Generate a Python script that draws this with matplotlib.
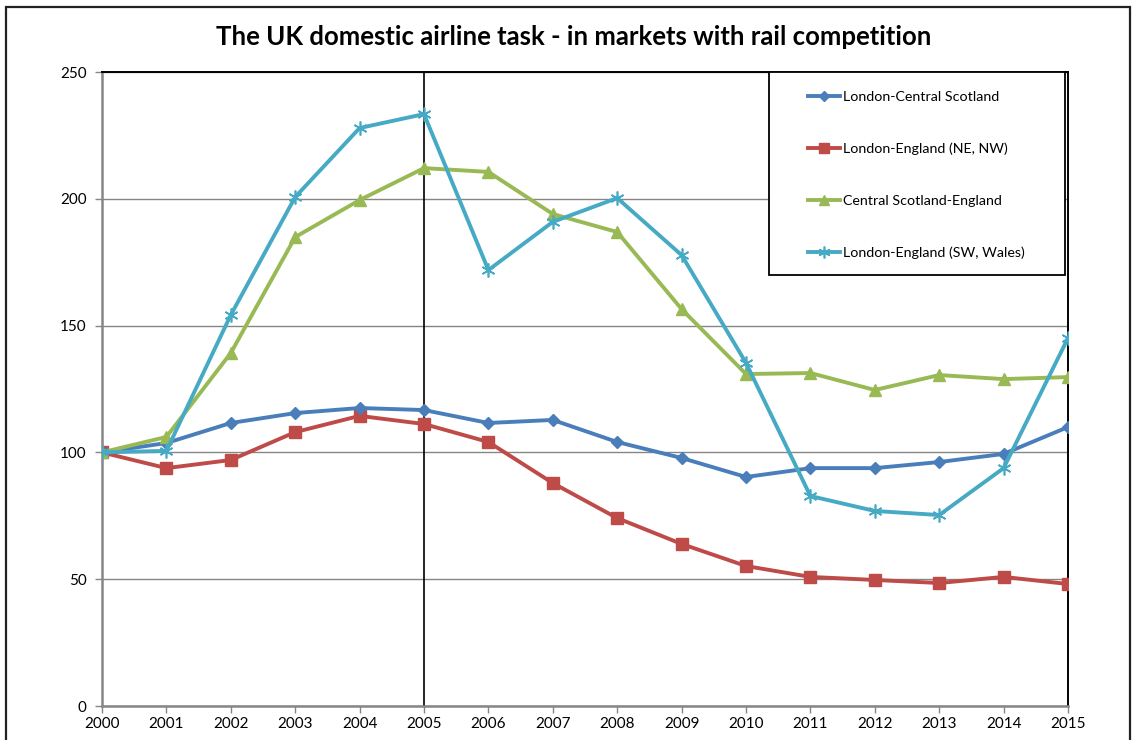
import matplotlib
matplotlib.use("Agg")
import matplotlib.pyplot as plt
from matplotlib.patches import Rectangle

plt.rcParams['font.family'] = ['Lato', 'DejaVu Sans']

years = list(range(2000, 2016))
london_central_scotland = [100, 103.7, 111.6, 115.5, 117.5, 116.7, 111.6, 112.8,
                           104.1, 97.8, 90.3, 93.8, 93.8, 96.2, 99.4, 110.0]
london_england_ne_nw = [100, 93.8, 97.0, 108.0, 114.4, 111.2, 104.1, 87.9,
                        74.1, 63.9, 55.2, 50.9, 49.7, 48.5, 50.9, 48.1]
central_scotland_england = [100, 106.1, 139.2, 184.9, 199.5, 212.1, 210.6, 194.0,
                            186.9, 156.5, 130.9, 131.3, 124.6, 130.5, 128.9, 129.7]
london_england_sw_wales = [100, 100.6, 154.2, 200.7, 227.9, 233.4, 171.9, 190.9,
                           200.3, 177.8, 135.3, 82.8, 76.9, 75.3, 93.8, 145.1]

series_labels = ["London-Central Scotland", "London-England (NE, NW)",
                 "Central Scotland-England", "London-England (SW, Wales)"]
y_ticks = [0, 50, 100, 150, 200, 250]
title = "The UK domestic airline task - in markets with rail competition"

fig = plt.figure(figsize=(11.32, 7.40), dpi=100)
ax = fig.add_axes([102 / 1132, 1 - 706 / 740, 966 / 1132, 634 / 740])

# outer chart frame
fig.patches.append(Rectangle((6 / 1132, -0.05), 1124 / 1132, 1 - 7 / 740 + 0.05,
                             transform=fig.transFigure, fill=False,
                             edgecolor='#222222', linewidth=1.6, zorder=0))

ax.plot(years, london_central_scotland, color='#4A7EBB', lw=2.8, marker='D',
        markersize=6.5, label=series_labels[0], zorder=4)
ax.plot(years, london_england_ne_nw, color='#BE4B48', lw=2.8, marker='s',
        markersize=8, label=series_labels[1], zorder=3)
ax.plot(years, central_scotland_england, color='#98B954', lw=2.8, marker='^',
        markersize=8.5, label=series_labels[2], zorder=4)
ax.plot(years, london_england_sw_wales, color='#46AAC5', lw=2.8, marker=(6, 2, 0),
        markersize=10, markeredgewidth=1.2, label=series_labels[3], zorder=5)

ax.set_xlim(2000, 2015)
ax.set_ylim(0, 250)
ax.set_xticks(years)
ax.set_xticklabels([str(y) for y in years])
ax.set_yticks(y_ticks)
ax.yaxis.grid(True, color='#868686', lw=1.0)
ax.set_axisbelow(True)
ax.axvline(2005, color='black', lw=1.2, zorder=2)

for side in ('left', 'bottom'):
    ax.spines[side].set_color('#868686')
    ax.spines[side].set_linewidth(1.8)
for side in ('top', 'right'):
    ax.spines[side].set_color('black')
    ax.spines[side].set_linewidth(1.4)

ax.tick_params(axis='both', direction='out', length=5, width=1, color='#868686',
               labelsize=11, labelcolor='black')
ax.tick_params(axis='x', pad=3)
ax.tick_params(axis='y', pad=6)

fig.text(574 / 1132, 1 - 37 / 740, title, ha='center', va='center',
         fontsize=18.5, fontweight='bold')

# legend box (white, black border) with the entries placed inside it
ax.add_patch(Rectangle((667 / 966, 1 - 203 / 634), 296 / 966, 203 / 634,
                       transform=ax.transAxes, facecolor='white',
                       edgecolor='black', linewidth=1.3, zorder=9))
leg = ax.legend(loc='upper left', bbox_to_anchor=(706 / 966, 1 - 19 / 634),
                frameon=False, fontsize=10.3, labelspacing=2.78,
                handlelength=2.25, handletextpad=0.2, borderpad=0,
                borderaxespad=0, markerscale=0.85)
leg.set_zorder(10)

fig.savefig('out.png', dpi=100)
